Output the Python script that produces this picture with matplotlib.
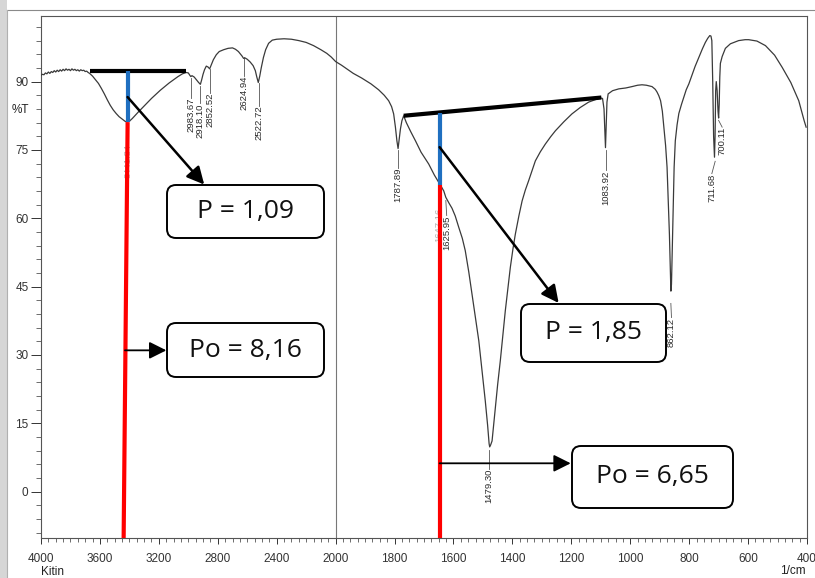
import numpy as np
import matplotlib
matplotlib.use("Agg")
import matplotlib.pyplot as plt
from matplotlib.patches import FancyBboxPatch, Rectangle
from matplotlib.lines import Line2D

# ---------------- FTIR spectrum of chitin (Kitin) ----------------
wavenumber = [
    4000, 3990, 3980, 3970, 3960, 3950, 3940, 3930, 3920, 3910, 3900, 3890,
    3880, 3870, 3860, 3850, 3840, 3830, 3820, 3810, 3800, 3790, 3780, 3770,
    3760, 3750, 3740, 3730, 3720, 3710, 3700, 3690, 3680,
    3670, 3650, 3630, 3610, 3590, 3570, 3550, 3530, 3510, 3490, 3470, 3450,
    3430, 3415, 3400, 3380, 3360, 3340, 3310, 3280, 3250, 3220, 3190, 3160,
    3130, 3100, 3070, 3040, 3015, 3000, 2990, 2983, 2975, 2960, 2945, 2930,
    2918, 2910, 2900, 2890, 2878, 2866, 2855, 2845, 2830, 2810, 2790, 2760,
    2730, 2700, 2680, 2660, 2645, 2635, 2625, 2615, 2600, 2580, 2560, 2545,
    2535, 2525, 2515, 2505, 2490, 2475, 2455, 2430, 2400, 2350, 2300, 2250,
    2200, 2150, 2100, 2060, 2030, 2000,
    1980, 1960, 1940, 1912, 1880, 1854, 1835, 1820, 1810, 1803, 1797, 1792,
    1788, 1784, 1780, 1775, 1769, 1760, 1745, 1729, 1710, 1684, 1665, 1650,
    1640, 1633, 1626, 1615, 1605, 1594, 1582, 1570, 1560, 1548, 1537, 1525,
    1514, 1503, 1492, 1484, 1479, 1477, 1474, 1469, 1458, 1450, 1441, 1432,
    1424, 1415, 1407, 1398, 1390, 1378, 1367, 1356, 1345, 1322, 1305, 1288,
    1270, 1254, 1225, 1198, 1170, 1141, 1120, 1101, 1094, 1089, 1086, 1084,
    1082, 1079, 1075, 1060, 1039, 1015, 994, 975, 960, 945, 926, 915, 909,
    903, 897, 891, 886, 880, 875, 871, 867, 864, 862, 860, 858, 856, 853, 851,
    847, 841, 835, 826, 818, 810, 801, 790, 780, 767, 755, 745, 737, 730, 726,
    723, 720, 717, 714, 712, 710, 708, 705, 702, 700, 698, 696, 694, 688, 677,
    660, 632, 610, 598, 570, 541, 510, 484, 455, 428, 410, 403,
]
transmittance = [
    91.4, 91.6, 91.5, 91.9, 91.7, 92.1, 91.8, 92.2, 92.0, 92.4, 92.1, 92.5,
    92.2, 92.6, 92.3, 92.7, 92.4, 92.8, 92.5, 92.7, 92.4, 92.8, 92.5, 92.7,
    92.4, 92.6, 92.3, 92.6, 92.4, 92.5, 92.2, 92.3, 92.0,
    91.8, 91.2, 90.4, 89.6, 88.5, 87.3, 86.0, 84.8, 83.8, 83.0, 82.3, 81.8,
    81.3, 81.1, 81.3, 81.9, 82.6, 83.3, 84.3, 85.3, 86.3, 87.2, 88.1, 88.9,
    89.7, 90.4, 91.1, 91.7, 92.0, 91.9, 91.4, 91.1, 91.3, 91.0, 90.4, 89.8,
    89.4, 90.3, 91.6, 92.6, 93.4, 93.2, 92.8, 93.6, 94.8, 95.9, 96.6, 97.0,
    97.3, 97.4, 97.1, 96.6, 96.0, 95.6, 95.1, 95.2, 94.9, 94.3, 93.5, 92.4,
    91.0, 89.8, 91.2, 93.0, 95.3, 97.0, 98.4, 99.1, 99.3, 99.4, 99.3, 99.0,
    98.6, 97.9, 97.0, 96.2, 95.4, 94.4,
    93.6, 92.7, 91.8, 90.8, 89.5, 88.2, 87.0, 85.8, 84.5, 82.9, 80.0, 77.0,
    75.3, 77.5, 79.6, 81.4, 82.5, 81.0, 79.0, 77.0, 74.5, 71.9, 69.5, 67.9,
    66.8, 66.0, 64.6, 63.3, 62.2, 60.5, 58.0, 55.6, 52.9, 48.2, 43.3, 38.0,
    33.1, 26.5, 19.9, 14.5, 10.5, 9.8, 10.2, 11.1, 18.4, 23.5, 28.7, 34.4,
    39.7, 44.8, 49.2, 53.3, 56.5, 60.5, 63.8, 66.2, 68.2, 72.6, 74.6, 76.3,
    77.9, 79.2, 81.2, 82.9, 84.3, 85.5, 86.0, 86.4, 86.3, 84.0, 79.0, 75.5,
    79.5, 85.5, 87.3, 88.0, 88.4, 88.6, 88.9, 89.2, 89.3, 89.2, 88.9, 88.3, 87.7,
    86.9, 85.8, 83.5, 80.0, 76.0, 71.2, 64.0, 56.5, 49.0, 44.0, 45.5, 51.0, 56.5, 64.0, 71.2,
    77.0, 80.5, 83.0, 85.0, 86.6, 88.2, 89.5, 91.5, 93.3, 95.3, 97.2, 98.6, 99.5, 100.1, 100.0,
    99.0, 90.0, 78.0, 73.4, 78.0, 88.0, 90.0, 88.0, 83.5, 82.0, 85.0, 91.0, 94.0, 95.5, 97.3,
    98.3, 99.0, 99.2, 99.2, 98.9, 97.9, 95.8, 93.1, 89.8, 85.8, 81.5, 80.0,
]

# peak labels: peak position, leader start (%T), text position (cm-1), text top (%T), faint print
peak_wn = [3441.84, 2983.67, 2918.10, 2852.52, 2624.94, 2522.72, 1787.89,
           1647.16, 1625.95, 1479.30, 1083.92, 862.12, 711.68, 700.11]
peak_text = ["3441.84", "2983.67", "2918.10", "2852.52", "2624.94", "2522.72",
             "1787.89", "1647.16", "1625.95", "1479.30", "1083.92", "862.12",
             "711.68", "700.11"]
leader_top = [None, 90.7, 89.1, 92.8, 95.3, 89.6, 74.9, None, 63.9, 9.2,
              74.9, 41.3, 72.5, 81.5]
text_wn = [3412, 2983.67, 2918.10, 2852.52, 2624.94, 2522.72, 1787.89,
           1650, 1623, 1479.30, 1083.92, 860, 723, 688]
text_top = [76.4, 86.5, 85.2, 87.6, 91.3, 84.7, 71.1, 62.3, 60.6, 5.0,
            70.5, 38.2, 69.8, 80.0]
faint = [True, False, False, False, False, False, False, True, False, False,
         False, False, False, False]

# baseline-method construction (two bands)
baseline1_wn = [3669, 3014]
baseline1_t = [92.4, 92.4]
band1_wn = 3412
band1_top, band1_min = 92.4, 81.1
band1_red_bottom_wn = 3439

baseline2_wn = [1769, 1098]
baseline2_t = [82.5, 86.5]
band2_wn = 1647
band2_top, band2_min = 83.0, 67.2

P1, Po1 = "1,09", "8,16"
P2, Po2 = "1,85", "6,65"

x_major = [4000, 3600, 3200, 2800, 2400, 2000, 1800, 1600, 1400, 1200, 1000, 800, 600, 400]
y_major = [0, 15, 30, 45, 60, 75, 90]

W, H = 815, 578
fig = plt.figure(figsize=(W / 100, H / 100), dpi=100)
fig.patch.set_facecolor("white")

# scanned page edge
fig.add_artist(Rectangle((0, 0), 7 / W, 1, transform=fig.transFigure,
                         facecolor="#d6d6d6", edgecolor="none", zorder=0))
fig.add_artist(Line2D([7 / W, 1], [1 - 10 / H, 1 - 10 / H], transform=fig.transFigure,
                      color="#8a8a8a", lw=0.8))
fig.add_artist(Line2D([7 / W, 7 / W], [0, 1 - 10 / H], transform=fig.transFigure,
                      color="#b0b0b0", lw=0.8))

ax = fig.add_axes([41 / W, 40 / H, 766 / W, 522 / H])


def fwd(w):
    w = np.asarray(w, dtype=float)
    return np.where(w >= 2000, w, 2000 - 2 * (2000 - w))


def inv(v):
    v = np.asarray(v, dtype=float)
    return np.where(v >= 2000, v, 2000 - (2000 - v) / 2)


ax.set_xscale("function", functions=(fwd, inv))
ax.set_xlim(4000, 400)
ax.set_ylim(-10.2, 104.4)

ax.set_xticks(x_major)
ax.set_xticks(list(np.arange(2000, 4000, 50)) + list(np.arange(400, 2000, 25)), minor=True)
ax.set_yticks(y_major)
ax.set_yticks(np.arange(-9, 104, 3), minor=True)
ax.xaxis.set_major_formatter(matplotlib.ticker.FuncFormatter(lambda v, p: f"{v:.0f}"))
ax.xaxis.set_minor_formatter(matplotlib.ticker.NullFormatter())

for lab in ax.get_xticklabels() + ax.get_yticklabels():
    lab.set_fontfamily("Liberation Sans")
ax.tick_params(axis="x", which="major", length=4, width=0.7, direction="out",
               labelsize=8.5, pad=6.5, colors="#333")
ax.tick_params(axis="x", which="minor", length=3, width=0.6, direction="out", colors="#555")
ax.tick_params(axis="y", which="major", length=7, width=0.7, direction="out",
               labelsize=8.5, pad=2, colors="#333")
ax.tick_params(axis="y", which="minor", length=3.5, width=0.6, direction="out", colors="#555")
for s in ax.spines.values():
    s.set_color("#555")
    s.set_linewidth(0.8)

ax.axvline(2000, color="#777", lw=0.8, zorder=1)

# spectrum
ax.plot(wavenumber, transmittance, color="#3a3a3a", lw=0.9, zorder=3)

# peak labels
for pw, lt, tw, tt, fa, txt in zip(peak_wn, leader_top, text_wn, text_top, faint, peak_text):
    col = "#b0b0b0" if fa else "#2a2a2a"
    if lt is not None:
        ax.plot([pw, tw], [lt, tt], color="#555", lw=0.6, zorder=2)
    ax.text(tw, tt, txt, rotation=90, ha="center", va="top", fontsize=6.8,
            family="Liberation Sans", color=col, zorder=2)

# baselines, P (blue) and Po (red)
ax.plot(baseline1_wn, baseline1_t, color="black", lw=3, solid_capstyle="butt", zorder=5)
ax.plot([band1_wn, band1_wn], [band1_top, band1_min], color="#1f6fc0", lw=3,
        solid_capstyle="butt", zorder=6)
ax.plot([band1_wn, band1_red_bottom_wn], [band1_min, -10.2], color="#ff0000", lw=3,
        solid_capstyle="butt", zorder=6, clip_on=False)

ax.plot(baseline2_wn, baseline2_t, color="black", lw=3, solid_capstyle="butt", zorder=5)
ax.plot([band2_wn, band2_wn], [band2_top, band2_min], color="#1f6fc0", lw=3,
        solid_capstyle="butt", zorder=6)
ax.plot([band2_wn, band2_wn], [band2_min, -10.2], color="#ff0000", lw=3,
        solid_capstyle="butt", zorder=6, clip_on=False)

# arrows to the value boxes
arrow_kw = dict(arrowstyle="-|>", color="black", mutation_scale=26,
                shrinkA=0, shrinkB=0)
ax.annotate("", xy=(2892, 67.4), xytext=(band1_wn, 86.6),
            arrowprops=dict(lw=1.8, **arrow_kw), zorder=7)
ax.annotate("", xy=(3149, 31.0), xytext=(3430, 31.0),
            arrowprops=dict(lw=1.3, **arrow_kw), zorder=7)
ax.annotate("", xy=(1243, 41.4), xytext=(band2_wn, 75.6),
            arrowprops=dict(lw=1.8, **arrow_kw), zorder=7)
ax.annotate("", xy=(1202, 6.2), xytext=(band2_wn, 6.2),
            arrowprops=dict(lw=1.3, **arrow_kw), zorder=7)

# value boxes (pixel geometry on the page)
boxes = [
    (167, 185, 157, 53, f"P = {P1}"),
    (167, 323, 157, 54, f"Po = {Po1}"),
    (521, 304, 145, 58, f"P = {P2}"),
    (572, 446, 161, 62, f"Po = {Po2}"),
]
for bx, by, bw, bh, txt in boxes:
    x0, y0 = bx / 100, (H - by - bh) / 100
    patch = FancyBboxPatch((x0, y0), bw / 100, bh / 100,
                           boxstyle="round,pad=0,rounding_size=0.09",
                           transform=fig.dpi_scale_trans, facecolor="white",
                           edgecolor="black", lw=1.4, zorder=10)
    fig.add_artist(patch)
    fig.text(x0 + bw / 200, y0 + bh / 200, txt, transform=fig.dpi_scale_trans,
             ha="center", va="center", fontsize=19, family="Open Sans",
             color="#111", zorder=11)

# axis captions
fig.text(12 / W, 1 - 110 / H, "%T", ha="left", va="center", fontsize=8.5,
         family="Liberation Sans", color="#222")
fig.text(41 / W, 1 - 572 / H, "Kitin", ha="left", va="center", fontsize=8.5,
         family="Liberation Sans", color="#222")
fig.text(806 / W, 1 - 571.5 / H, "1/cm", ha="right", va="center", fontsize=8.5,
         family="Liberation Sans", color="#222")

fig.savefig("out.png", dpi=100, facecolor="white")
